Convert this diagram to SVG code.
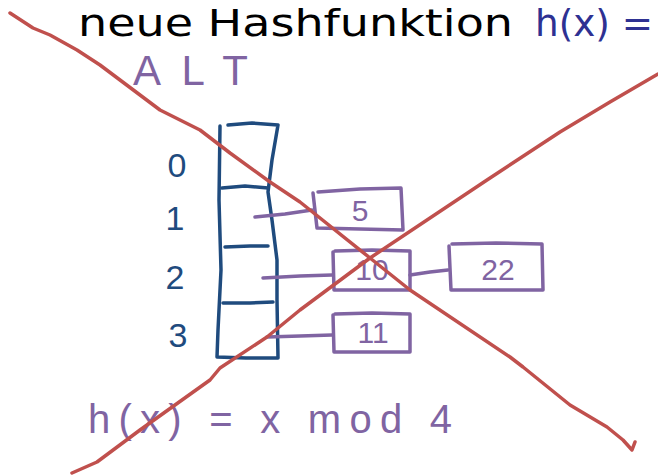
<svg xmlns="http://www.w3.org/2000/svg" width="658" height="476" viewBox="0 0 658 476">
<style>
.blue{fill:none;stroke:#1f4b7e;stroke-width:3.5;stroke-linecap:round;stroke-linejoin:round}
.pur{fill:none;stroke:#8064a2;stroke-width:3.5;stroke-linecap:round;stroke-linejoin:round}
.red{fill:none;stroke:#c0504d;stroke-width:3.5;stroke-linecap:round;stroke-linejoin:round}
.idx{font-family:"Liberation Sans",Arial,sans-serif;font-size:34px;fill:#1f4b7e;text-anchor:middle}
.val{font-family:"Liberation Sans",Arial,sans-serif;font-size:30px;fill:#8064a2;text-anchor:middle}
.hand{font-family:"Liberation Sans",Arial,sans-serif;fill:#8064a2}
</style>
<rect width="658" height="476" fill="#ffffff"/>
<g id="title">
<text x="78" y="36" font-family="DejaVu Sans,Verdana,sans-serif" font-size="38" fill="#000000" textLength="435" lengthAdjust="spacingAndGlyphs">neue Hashfunktion</text>
<text x="535" y="36" font-family="DejaVu Sans,Verdana,sans-serif" font-size="38" fill="#2e3192" textLength="118" lengthAdjust="spacingAndGlyphs">h(x) =</text>
</g>
<g id="alt">
<text class="hand" x="133" y="85" font-size="42" textLength="115" lengthAdjust="spacing">ALT</text>
</g>
<g id="array">
<path class="blue" d="M220,126 L219,200 L221,270 L218,330 L217,357 L246,358 L278,358 L277,300 L277,260 L272,220 L268,192 L272,160 L278,125 L252,123 L228,125"/>
<path class="blue" d="M222,188 L245,186 L268,188"/>
<path class="blue" d="M225,247 L250,246 L268,246"/>
<path class="blue" d="M223,303 L250,303 L273,302"/>
</g>
<g id="indices">
<text class="idx" x="177" y="177">0</text>
<text class="idx" x="175" y="230">1</text>
<text class="idx" x="175" y="289">2</text>
<text class="idx" x="178" y="347">3</text>
</g>
<g id="connectors">
<path class="pur" d="M255,217 L285,214 L312,210"/>
<path class="pur" d="M263,278 L300,276 L332,275"/>
<path class="pur" d="M410,275 L430,272 L448,270"/>
<path class="pur" d="M267,337 L300,336 L332,335"/>
</g>
<g id="node-5">
<path class="pur" d="M313,193 L317,228 L360,229 L403,230 L401,188 L360,189 L318,192"/>
<text class="val" x="360" y="221">5</text>
</g>
<g id="node-10">
<path class="pur" d="M333,252 L334,290 L410,290 L410,251 L372,250 L335,251"/>
<text class="val" x="372" y="280">10</text>
</g>
<g id="node-22">
<path class="pur" d="M449,246 L451,290 L543,290 L542,244 L496,243 L452,244"/>
<text class="val" x="498" y="280">22</text>
</g>
<g id="node-11">
<path class="pur" d="M333,315 L334,352 L410,352 L410,314 L372,313 L335,314"/>
<text class="val" x="373" y="343">11</text>
</g>
<g id="formula">
<text class="hand" x="88" y="433" font-size="40" textLength="364" lengthAdjust="spacing">h(x) = x mod 4</text>
</g>
<g id="cross">
<path class="red" d="M10,13 L33,28 L50,35 L77,50 L100,65 L120,80 L160,110 L200,130 L230,153 L270,182 L300,202 L370,258 L410,290 L510,357 L523,367 L570,405 L607,427 L623,440 L632,450 L635,442"/>
<path class="red" d="M72,473 L97,462 L140,430 L210,380 L220,368 L267,337 L300,310 L370,258 L487,180 L560,132 L610,102 L658,74"/>
</g>
</svg>
